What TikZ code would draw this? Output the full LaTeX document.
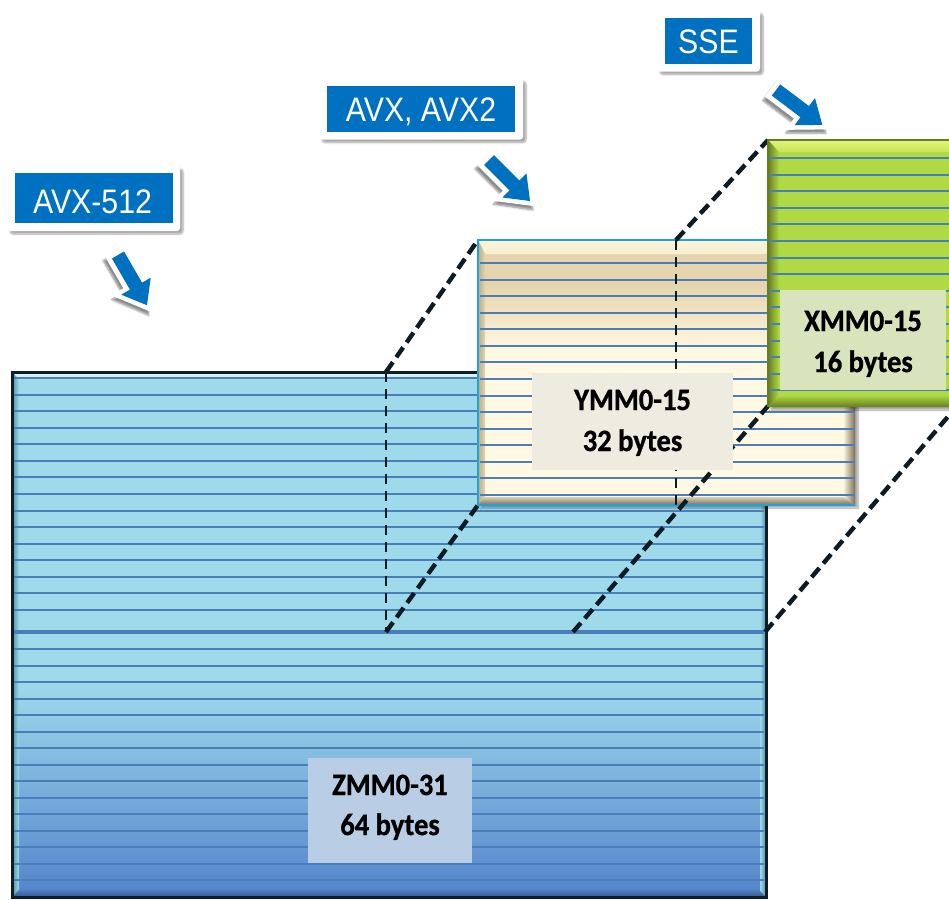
\documentclass[tikz,border=0pt]{standalone}
\usepackage{fontspec}
\usepackage{graphicx}
\setmainfont{Carlito}
\newfontfamily\regfont{Carlito}[UprightFont={Carlito Bold}, FakeBold=1]
\newfontfamily\arialfont{Liberation Sans}
\usetikzlibrary{shadows.blur}

% register file colours
\definecolor{zmmTop}{HTML}{9FDAEB}
\definecolor{zmmBot}{HTML}{5483CB}
\definecolor{zmmHi}{HTML}{D4F2FA}
\definecolor{zmmEdge}{HTML}{0F1E26}
\definecolor{zmmSide}{HTML}{4E8FA3}
\definecolor{zmmFoot}{HTML}{35598F}
\definecolor{lineBlue}{HTML}{4A7EBB}
\definecolor{ymmTan}{HTML}{E6D5AC}
\definecolor{ymmCream}{HTML}{FFF8E2}
\definecolor{ymmHi}{HTML}{FCF3D8}
\definecolor{ymmShade}{HTML}{7E6E57}
\definecolor{ymmEdge}{HTML}{1DA2DB}
\definecolor{xmmGreen}{HTML}{B0DA44}
\definecolor{xmmLight}{HTML}{E2F47A}
\definecolor{xmmDark}{HTML}{657D1D}
\definecolor{zLbl}{HTML}{B9CDE5}
\definecolor{yLbl}{HTML}{EEECE1}
\definecolor{xLbl}{HTML}{D8E4BC}
\definecolor{dashInk}{HTML}{0D1B24}
\definecolor{isaBlue}{HTML}{0070C0}

\begin{document}
\begin{tikzpicture}[x=1pt,y=-1pt,
  stripe/.style={draw=lineBlue, line width=2pt},
  bigdash/.style={draw=dashInk, line width=4.4pt, dash pattern=on 12pt off 6pt},
  middash/.style={draw=dashInk, line width=2.6pt, dash pattern=on 10pt off 7pt},
  regtext/.style={font=\regfont\fontsize{31}{36}\selectfont, text=black, anchor=base, inner sep=0pt},
  isatext/.style={font=\arialfont\fontsize{34}{40}\selectfont, text=white, anchor=base, inner sep=0pt},
  softshadow/.style={blur shadow={shadow xshift=3pt, shadow yshift=-3pt, shadow blur steps=6, shadow opacity=35}},
  arrowshadow/.style={blur shadow={shadow xshift=-2pt, shadow yshift=-4pt, shadow blur steps=6, shadow opacity=45}},
  outerbox/.style={fill=white, rounded corners=3pt, inner sep=0pt, softshadow},
  isabox/.style={fill=isaBlue, inner sep=0pt},
  lblbox/.style={inner sep=0pt},
  isaarrowstyle/.style={fill=isaBlue},
  arrowrim/.style={fill=white, draw=white, line width=9pt, line join=miter}
]
\useasboundingbox (0,0) rectangle (949,899);
\clip (0,0) rectangle (949,899);

% ---------- corner coordinates ----------
\coordinate (zTL) at (12,372);
\coordinate (zBR) at (766,897);
\coordinate (zTopMid) at (386,372);
\coordinate (zMid) at (386,632);
\coordinate (zQuarter) at (573,632);
\coordinate (zMidR) at (765,632);
\coordinate (yTL) at (478,240);
\coordinate (yBL) at (478,505);
\coordinate (yTopMid) at (676,240);
\coordinate (yBotMid) at (676,505);
\coordinate (xTL) at (768,140);
\coordinate (xBL) at (768,406);
\coordinate (xBR) at (957,406);

% ---------- ZMM block ----------
\fill[zmmTop] (zTL) rectangle (zBR);
\shade[top color=zmmTop, bottom color=zmmBot] (12,680) rectangle (766,897);
\fill[zmmHi] (12,372) -- (766,372) -- (760,379) -- (19,379) -- cycle;
\shade[left color=zmmSide, right color=zmmTop] (12,372) -- (19,379) -- (19,890) -- (12,897) -- cycle;
\shade[left color=zmmTop, right color=zmmSide] (766,372) -- (766,897) -- (760,891) -- (760,378) -- cycle;
\shade[top color=zmmBot, bottom color=zmmFoot] (12,897) -- (766,897) -- (758,889) -- (20,889) -- cycle;
\foreach \k in {0,...,14} \draw[stripe] (14,{378+16.57*\k}) -- (764,{378+16.57*\k});
\draw[stripe, line width=4pt] (14,632) -- (764,632);
\foreach \k in {0,...,14} \draw[stripe] (14,{649+16.5*\k}) -- (764,{649+16.5*\k});
\draw[zmmEdge, line width=3pt] (zTL) rectangle (zBR);

% projection of the upper half onto YMM
\draw[middash] (zTopMid) -- (zMid);
\draw[bigdash] (zTopMid) -- (yTL);
\draw[bigdash] (zMid) -- (yBL);

% ---------- YMM block ----------
\fill[ymmCream, softshadow] (478,240) rectangle (855,505);
\fill[ymmTan] (478,240) rectangle (855,285);
\shade[top color=ymmTan, bottom color=ymmCream] (478,285) rectangle (855,350);
\shade[top color=ymmHi, bottom color=ymmHi!85!ymmTan] (478,240) -- (855,240) -- (843,254) -- (485,254) -- cycle;
\shade[left color=ymmTan!80!black, right color=ymmTan] (478,240) -- (485,254) -- (485,498) -- (478,505) -- cycle;
\shade[left color=ymmCream, right color=ymmShade] (855,240) -- (855,505) -- (843,497) -- (843,254) -- cycle;
\shade[top color=ymmCream!70!ymmShade, bottom color=ymmShade] (478,505) -- (855,505) -- (843,497) -- (485,497) -- cycle;
\foreach \k in {0,...,14} \draw[stripe] (480,{263+16.57*\k}) -- (855,{263+16.57*\k});
\draw[ymmEdge, line width=2.6pt] (855,240) -- (478,240) -- (478,505) -- (855,505);

% projection of the right half of YMM onto XMM
\draw[middash] (yTopMid) -- (yBotMid);
\draw[bigdash] (zQuarter) -- (xBL);
\draw[bigdash] (yTopMid) -- (xTL);
\draw[bigdash] (zMidR) -- (xBR);

% ---------- XMM block ----------
\fill[xmmGreen, softshadow] (768,140) rectangle (962,407);
\shade[top color=xmmLight, bottom color=xmmGreen!60!xmmLight] (768,140) -- (962,140) -- (962,152) -- (779,152) -- cycle;
\shade[left color=xmmDark, right color=xmmGreen] (768,140) -- (779,152) -- (779,395) -- (768,407) -- cycle;
\shade[top color=xmmGreen, bottom color=xmmDark] (768,407) -- (962,407) -- (962,395) -- (779,395) -- cycle;
\foreach \k in {0,...,14} \draw[stripe] (769,{158+16.6*\k}) -- (962,{158+16.6*\k});
\draw[xmmDark, line width=1.6pt] (768,407) -- (768,140) -- (962,140);

% ---------- register labels ----------
\node[lblbox, fill=zLbl, minimum width=164pt, minimum height=105pt] (zlbl) at (390,810.5) {};
\node[regtext] (zname) at (390,795) {\scalebox{0.92}[1]{ZMM0-31}};
\node[regtext] (zsize) at (390,835) {\scalebox{0.92}[1]{64 bytes}};

\node[lblbox, fill=yLbl, minimum width=201pt, minimum height=97pt] (ylbl) at (632.5,421.5) {};
\node[regtext] (yname) at (632.5,410) {\scalebox{0.92}[1]{YMM0-15}};
\node[regtext] (ysize) at (632.5,451) {\scalebox{0.92}[1]{32 bytes}};

\node[lblbox, fill=xLbl, minimum width=166pt, minimum height=100pt] (xlbl) at (863,340) {};
\node[regtext] (xname) at (863,331) {\scalebox{0.92}[1]{XMM0-15}};
\node[regtext] (xsize) at (863,372) {\scalebox{0.92}[1]{16 bytes}};

% ---------- instruction-set tags ----------
\node[outerbox, minimum width=173pt, minimum height=65pt] (avx512frame) at (93.5,198.5) {};
\node[isabox, minimum width=158pt, minimum height=50pt] (avx512box) at (93.5,197.5) {};
\node[isatext] (avx512) at (92.5,213) {\scalebox{0.89}[1]{AVX-512}};

\node[outerbox, minimum width=204pt, minimum height=61pt] (avx2frame) at (421,109) {};
\node[isabox, minimum width=188pt, minimum height=46pt] (avx2box) at (421,109) {};
\node[isatext] (avx2) at (421,121) {\scalebox{0.89}[1]{AVX, AVX2}};

\node[outerbox, minimum width=103pt, minimum height=61pt] (sseframe) at (708.5,41) {};
\node[isabox, minimum width=87pt, minimum height=46pt] (ssebox) at (708.5,41) {};
\node[isatext] (sse) at (708.5,53) {\scalebox{0.89}[1]{SSE}};

% ---------- block arrows pointing at each register file ----------
\foreach \tx/\ty/\ang in {118/255/60, 489/160/45, 776/90/37} {
  \begin{scope}[shift={(\tx,\ty)}, rotate=-\ang]
    % soft shadow under the white rim
    \path[fill=white, arrowshadow] (-5,-12) -- (33,-12) -- (33,-24) -- (65,0) -- (33,24) -- (33,12) -- (-5,12) -- cycle;
    \path[arrowrim] (0,-7) -- (36,-7) -- (36,-17) -- (58,0) -- (36,17) -- (36,7) -- (0,7) -- cycle;
    \path[isaarrowstyle] (0,-7) -- (36,-7) -- (36,-17) -- (58,0) -- (36,17) -- (36,7) -- (0,7) -- cycle;
  \end{scope}
}
\end{tikzpicture}
\end{document}
